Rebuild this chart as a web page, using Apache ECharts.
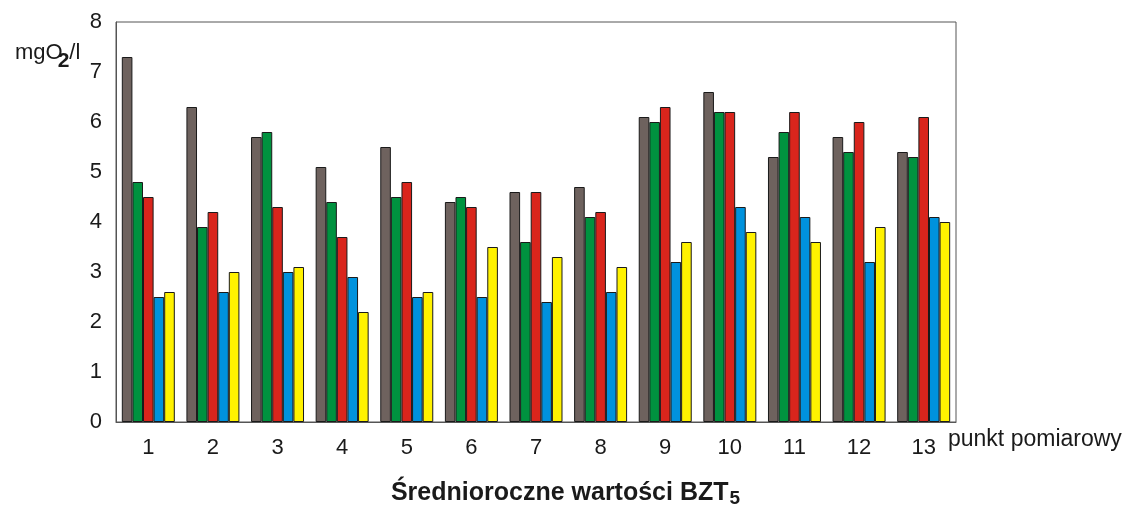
<!DOCTYPE html>
<html lang="pl">
<head>
  <meta charset="UTF-8">
  <title>BZT5</title>
  <script src="https://cdn.jsdelivr.net/npm/echarts@6/dist/echarts.min.js"></script>
  <style type="text/css">
    html, body { margin: 0; padding: 0; background: #fff; }
    #main { width: 1131px; height: 507px; }
  </style>
</head>
<body>
  <div id="main"></div>
  <script type="text/javascript">
    // punkty pomiarowe
    var categories = ['1', '2', '3', '4', '5', '6', '7', '8', '9', '10', '11', '12', '13'];

    // srednioroczne BZT5 [mgO2/l], piec serii (kolory jak w oryginale)
    var seriesGrey   = [7.3, 6.3, 5.7, 5.1, 5.5, 4.4, 4.6, 4.7, 6.1, 6.6, 5.3, 5.7, 5.4];
    var seriesGreen  = [4.8, 3.9, 5.8, 4.4, 4.5, 4.5, 3.6, 4.1, 6.0, 6.2, 5.8, 5.4, 5.3];
    var seriesRed    = [4.5, 4.2, 4.3, 3.7, 4.8, 4.3, 4.6, 4.2, 6.3, 6.2, 6.2, 6.0, 6.1];
    var seriesBlue   = [2.5, 2.6, 3.0, 2.9, 2.5, 2.5, 2.4, 2.6, 3.2, 4.3, 4.1, 3.2, 4.1];
    var seriesYellow = [2.6, 3.0, 3.1, 2.2, 2.6, 3.5, 3.3, 3.1, 3.6, 3.8, 3.6, 3.9, 4.0];

    var colors = ['#6e625e', '#00923f', '#d9251c', '#0092dd', '#fff200'];
    var allSeries = [seriesGrey, seriesGreen, seriesRed, seriesBlue, seriesYellow];

    var chartDom = document.getElementById('main');
    var myChart = echarts.init(chartDom);
    var font = 'Liberation Sans, Arial, sans-serif';

    var series = allSeries.map(function (d, i) {
      return {
        type: 'bar',
        data: d,
        barGap: '0%',
        barCategoryGap: '18%',
        itemStyle: { color: colors[i], borderColor: '#1a1a1a', borderWidth: 1 },
        animation: false
      };
    });

    var option = {
      animation: false,
      title: [
        {
          text: '{a|mgO}{s|2}{a|/l}',
          left: 10,
          top: 28,
          textStyle: {
            rich: {
              a: { fontSize: 22, fontWeight: 'normal', fontFamily: font, color: '#1a1a1a' },
              s: { fontSize: 21, fontWeight: 'bold', fontFamily: font, color: '#1a1a1a', padding: [18, 0, 0, -5] }
            }
          }
        },
        {
          text: '{a|Średnioroczne wartości BZT}{s|5}',
          left: 'center',
          top: 473,
          textStyle: {
            rich: {
              a: { fontSize: 25, fontWeight: 'bold', fontFamily: font, color: '#1a1a1a' },
              s: { fontSize: 19, fontWeight: 'bold', fontFamily: font, color: '#1a1a1a', padding: [11, 0, 0, 1] }
            }
          }
        }
      ],
      grid: {
        left: 116,
        right: 175,
        top: 22,
        bottom: 85,
        show: true,
        borderColor: '#555',
        borderWidth: 1
      },
      xAxis: {
        type: 'category',
        data: categories,
        name: 'punkt pomiarowy',
        nameLocation: 'end',
        nameGap: -8,
        nameTextStyle: { fontSize: 23, fontFamily: font, color: '#1a1a1a', verticalAlign: 'top', padding: [6, 0, 0, 0] },
        axisLine: { lineStyle: { color: '#555' } },
        axisTick: { show: false },
        axisLabel: { fontSize: 22, fontFamily: font, color: '#1a1a1a', margin: 15 }
      },
      yAxis: {
        type: 'value',
        min: 0,
        max: 8,
        interval: 1,
        splitLine: { show: false },
        axisLine: { show: true, lineStyle: { color: '#555' } },
        axisTick: { show: false },
        axisLabel: { fontSize: 22, fontFamily: font, color: '#1a1a1a', margin: 14 }
      },
      series: series
    };

    myChart.setOption(option);
  </script>
</body>
</html>
